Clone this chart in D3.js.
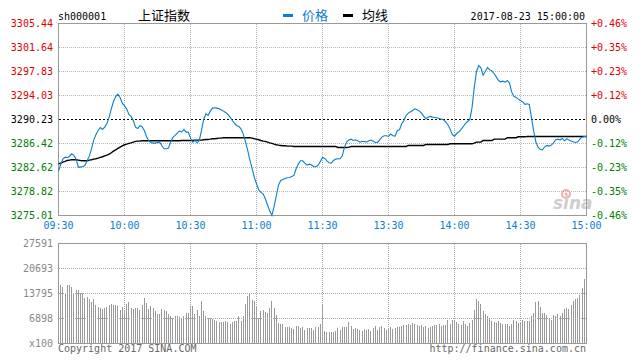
<!DOCTYPE html>
<html>
<head>
<meta charset="utf-8">
<script src="https://cdn.jsdelivr.net/npm/d3@7"></script>
<style>
  body { margin: 0; background: #fff; }
</style>
</head>
<body>
<div id="chart"></div>
<script>
// sh000001 intraday, 2017-08-23, one point per minute (09:30-11:30, 13:01-15:00)
const prevClose = 3290.23
const priceLabels = ["3305.44", "3301.64", "3297.83", "3294.03", "3290.23", "3286.42", "3282.62", "3278.82", "3275.01"]
const pctLabels = ["+0.46%", "+0.35%", "+0.23%", "+0.12%", "0.00%", "-0.12%", "-0.23%", "-0.35%", "-0.46%"]
const volLabels = ["27591", "20693", "13795", "6898", "x100"]
const timeLabels = ["09:30", "10:00", "10:30", "11:00", "11:30", "13:30", "14:00", "14:30", "15:00"]
const timeIndex = [0, 30, 60, 90, 120, 150, 180, 210, 240]

const price = [
  3282.04, 3283.10, 3283.95, 3284.26, 3284.21, 3284.37, 3284.79, 3284.53, 3283.95, 3282.68,
  3282.68, 3282.78, 3282.94, 3283.68, 3284.42, 3285.58, 3286.96, 3287.80, 3288.49, 3288.96,
  3288.65, 3289.02, 3289.60, 3290.55, 3291.92, 3293.08, 3293.87, 3294.24, 3293.72, 3292.82,
  3292.40, 3291.87, 3291.02, 3290.71, 3290.07, 3289.02, 3288.80, 3289.23, 3289.07, 3288.49,
  3287.54, 3286.85, 3286.59, 3286.48, 3286.48, 3286.59, 3286.64, 3286.06, 3285.58, 3285.58,
  3285.69, 3286.69, 3287.38, 3287.70, 3288.07, 3288.43, 3288.22, 3288.65, 3288.22, 3288.22,
  3287.27, 3286.64, 3286.90, 3286.53, 3286.90, 3288.49, 3290.23, 3291.13, 3290.86, 3291.55,
  3292.03, 3292.08, 3292.03, 3291.92, 3291.76, 3291.55, 3291.34, 3291.02, 3290.60, 3290.07,
  3289.65, 3289.28, 3289.12, 3288.70, 3287.91, 3286.69, 3285.32, 3283.79, 3282.47, 3281.04,
  3280.04, 3279.09, 3278.67, 3278.45, 3277.66, 3276.71, 3275.71, 3275.02, 3276.45, 3278.14,
  3279.83, 3280.57, 3280.72, 3280.88, 3280.99, 3281.04, 3281.20, 3281.36, 3282.41, 3283.15,
  3283.68, 3283.68, 3283.31, 3283.00, 3283.15, 3283.00, 3282.73, 3282.73, 3282.94, 3283.58,
  3284.21,
  3284.05, 3283.68, 3283.36, 3283.31, 3283.73, 3283.95, 3284.00, 3284.00, 3284.47, 3285.85,
  3286.69, 3286.96, 3287.11, 3286.90, 3287.01, 3286.85, 3286.64, 3286.75, 3286.75, 3286.64,
  3286.85, 3286.96, 3286.80, 3286.59, 3286.59, 3287.01, 3287.43, 3287.64, 3287.64, 3287.54,
  3287.91, 3287.64, 3287.59, 3288.49, 3288.59, 3289.54, 3290.07, 3290.86, 3291.23, 3291.45,
  3291.66, 3291.92, 3291.76, 3291.55, 3291.23, 3290.76, 3290.34, 3290.60, 3290.71, 3290.60,
  3290.55, 3290.49, 3290.39, 3290.28, 3290.18, 3289.86, 3289.39, 3288.70, 3287.85, 3287.54,
  3288.01, 3288.28, 3288.65, 3289.12, 3289.60, 3289.91, 3290.28, 3292.18, 3295.35, 3297.84,
  3298.79, 3298.42, 3297.25, 3297.84, 3298.47, 3298.10, 3297.94, 3297.47, 3296.99, 3296.41,
  3296.20, 3296.30, 3296.15, 3296.41, 3295.99, 3294.56, 3293.87, 3293.77, 3293.45, 3293.24,
  3293.03, 3292.61, 3292.71, 3292.61, 3290.49, 3288.38, 3286.64, 3285.85, 3285.48, 3285.42,
  3285.90, 3286.11, 3286.01, 3286.16, 3286.53, 3287.01, 3287.11, 3287.01, 3287.22, 3286.85,
  3287.17, 3286.96, 3286.80, 3286.69, 3286.59, 3286.69, 3287.11, 3287.43, 3287.54, 3287.54
]

const avgPrice = [
  3283.21, 3283.31, 3283.47, 3283.58, 3283.73, 3283.79, 3283.84, 3283.84, 3283.84, 3283.79,
  3283.73, 3283.68, 3283.68, 3283.68, 3283.79, 3283.84, 3283.95, 3284.00, 3284.10, 3284.21,
  3284.32, 3284.47, 3284.58, 3284.74, 3284.95, 3285.21, 3285.42, 3285.64, 3285.85, 3286.06,
  3286.22, 3286.32, 3286.43, 3286.53, 3286.64, 3286.75, 3286.80, 3286.80, 3286.85, 3286.85,
  3286.85, 3286.85, 3286.85, 3286.85, 3286.85, 3286.85, 3286.85, 3286.85, 3286.85, 3286.85,
  3286.85, 3286.85, 3286.85, 3286.85, 3286.85, 3286.85, 3286.90, 3286.90, 3286.90, 3286.90,
  3286.90, 3286.90, 3286.96, 3286.96, 3286.96, 3286.96, 3287.01, 3287.06, 3287.06, 3287.11,
  3287.17, 3287.17, 3287.22, 3287.27, 3287.27, 3287.33, 3287.33, 3287.33, 3287.33, 3287.33,
  3287.33, 3287.33, 3287.33, 3287.33, 3287.33, 3287.33, 3287.33, 3287.33, 3287.27, 3287.17,
  3287.11, 3287.01, 3286.90, 3286.80, 3286.75, 3286.64, 3286.53, 3286.43, 3286.32, 3286.22,
  3286.16, 3286.11, 3286.06, 3286.06, 3286.01, 3286.01, 3286.01, 3285.95, 3285.95, 3285.95,
  3285.95, 3285.95, 3285.95, 3285.95, 3285.95, 3285.95, 3285.95, 3285.95, 3285.95, 3285.95,
  3285.95,
  3285.95, 3285.95, 3285.95, 3285.95, 3285.95, 3285.95, 3285.79, 3285.79, 3285.79, 3285.79,
  3285.79, 3285.85, 3285.95, 3285.95, 3285.95, 3285.95, 3285.95, 3285.95, 3285.95, 3285.95,
  3285.95, 3285.95, 3285.95, 3285.95, 3285.95, 3285.95, 3285.95, 3285.95, 3285.95, 3285.95,
  3285.95, 3285.95, 3285.95, 3285.95, 3285.95, 3285.95, 3285.95, 3285.95, 3286.11, 3286.11,
  3286.11, 3286.11, 3286.11, 3286.11, 3286.11, 3286.11, 3286.27, 3286.27, 3286.27, 3286.27,
  3286.27, 3286.27, 3286.27, 3286.27, 3286.27, 3286.27, 3286.27, 3286.37, 3286.37, 3286.37,
  3286.37, 3286.37, 3286.37, 3286.37, 3286.37, 3286.37, 3286.37, 3286.37, 3286.48, 3286.64,
  3286.64, 3286.64, 3286.90, 3286.90, 3286.90, 3286.90, 3286.90, 3287.11, 3287.11, 3287.11,
  3287.11, 3287.11, 3287.11, 3287.33, 3287.33, 3287.33, 3287.33, 3287.33, 3287.48, 3287.48,
  3287.48, 3287.48, 3287.54, 3287.54, 3287.54, 3287.54, 3287.54, 3287.54, 3287.54, 3287.54,
  3287.54, 3287.54, 3287.54, 3287.54, 3287.54, 3287.54, 3287.54, 3287.54, 3287.54, 3287.54,
  3287.54, 3287.54, 3287.54, 3287.54, 3287.54, 3287.54, 3287.54, 3287.54, 3287.54, 3287.54
]

// volume in lots of 100
const volume = [
  27591, 16090, 15530, 13800, 16090, 16090, 15530, 13800, 14710, 14710,
  13800, 14070, 12580, 12860, 12220, 11400, 12220, 10570, 10020, 9740,
  9460, 9740, 10020, 10570, 10840, 10570, 10570, 10290, 9190, 10020,
  8910, 10840, 11400, 9740, 9460, 9740, 9740, 9190, 10570, 12500,
  11120, 9460, 10290, 9740, 8910, 8080, 8080, 9460, 9190, 8910,
  8080, 7530, 6980, 7530, 7530, 7260, 6980, 7530, 8360, 8360,
  10020, 10290, 8080, 9190, 7530, 11670, 8910, 7530, 6980, 6980,
  6700, 6430, 6150, 5880, 5880, 5880, 6150, 5880, 5330, 5880,
  6150, 6150, 7530, 6150, 7530, 10840, 13050, 13880, 11950, 11670,
  10290, 6980, 8910, 9190, 8640, 8360, 9740, 11670, 9740, 7810,
  5600, 5330, 5330, 4500, 4500, 4500, 4220, 3950, 4770, 4770,
  4220, 4500, 3670, 4220, 4220, 4220, 3670, 4500, 4500, 5330,
  10570,
  3390, 3120, 3120, 3120, 3120, 3390, 4220, 3670, 4500, 4500,
  4500, 5880, 4770, 3950, 4220, 3950, 3670, 3390, 3950, 3670,
  3950, 3390, 4220, 4770, 3670, 4500, 4770, 4220, 3670, 3950,
  4500, 3950, 4220, 4500, 4500, 4770, 5050, 5050, 5330, 5050,
  5600, 5330, 5050, 4770, 5050, 4500, 4770, 4220, 4500, 4770,
  5050, 5050, 5330, 4770, 5050, 5050, 6430, 5330, 6430, 6150,
  5880, 5330, 5050, 6150, 5330, 4770, 5600, 6430, 9190, 12220,
  11670, 10840, 8910, 8080, 7530, 6700, 6150, 5880, 5600, 6150,
  5600, 5330, 5330, 5330, 4770, 5330, 6430, 6150, 5600, 5600,
  6430, 6150, 6150, 6150, 7530, 8360, 11400, 11670, 10020, 8360,
  8360, 7810, 6980, 6430, 7810, 7530, 8080, 7530, 8360, 9460,
  9740, 9460, 10570, 11670, 12220, 12500, 13330, 15260, 17740, 17740
]

const mono = "'DejaVu Sans Mono', monospace"
const cjk = "'Noto Sans CJK SC', sans-serif"
const up = "#e00000", down = "#008000", flat = "#000", blue = "#0a7ed0", grey = "#999"

const x = d3.scaleLinear([0, 240], [58.5, 586.5])
const yP = d3.scaleLinear([3275.01, 3305.44], [215.5, 23.5])
const yV = d3.scaleLinear([0, 27591], [343.5, 243.5])
const levels = d3.range(priceLabels.length).map(k => 3305.44 - k * (3305.44 - 3275.01) / 8)
const volLevels = d3.range(volLabels.length).map(k => 27591 - k * 27591 / 4)
const labelColor = (k) => k < 4 ? up : (k === 4 ? flat : down)

const svg = d3.create("svg")
    .attr("width", 641)
    .attr("height", 363)
    .attr("viewBox", [0, 0, 641, 363])
    .style("display", "block")
    .style("background", "#fff")

// header
svg.append("text").attr("x", 58).attr("y", 20)
    .attr("font-family", mono).attr("font-size", 10).attr("fill", "#000").text("sh000001")
svg.append("text").attr("x", 138).attr("y", 20)
    .attr("font-family", cjk).attr("font-size", 13).attr("fill", "#000").text("上证指数")
svg.append("rect").attr("x", 283).attr("y", 14).attr("width", 10).attr("height", 3).attr("fill", blue)
svg.append("text").attr("x", 302).attr("y", 20)
    .attr("font-family", cjk).attr("font-size", 13).attr("fill", blue).text("价格")
svg.append("rect").attr("x", 343).attr("y", 14).attr("width", 10).attr("height", 3).attr("fill", "#000")
svg.append("text").attr("x", 362).attr("y", 20)
    .attr("font-family", cjk).attr("font-size", 13).attr("fill", "#000").text("均线")
svg.append("text").attr("x", 585).attr("y", 20).attr("text-anchor", "end")
    .attr("font-family", mono).attr("font-size", 10).attr("fill", "#000").text("2017-08-23 15:00:00")

// watermark
const wm = svg.append("g").attr("opacity", 0.9)
wm.append("circle").attr("cx", 566).attr("cy", 194).attr("r", 4)
    .attr("fill", "none").attr("stroke", "#f4a6a6").attr("stroke-width", 2)
wm.append("circle").attr("cx", 566).attr("cy", 194).attr("r", 1.5).attr("fill", "#f4a6a6")
wm.append("text").attr("x", 553).attr("y", 209)
    .attr("font-family", "'DejaVu Sans', sans-serif").attr("font-size", 17)
    .attr("font-style", "italic").attr("font-weight", "bold").attr("fill", "#c9c9c9").text("sina")

// price grid
const grid = svg.append("g").attr("stroke", "#b5b5b5").attr("stroke-dasharray", "1,1").attr("shape-rendering", "crispEdges")
grid.selectAll(".h").data(levels.slice(1, -1).filter((d, k) => k !== 3)).join("line")
    .attr("x1", x(0)).attr("x2", x(240)).attr("y1", d => yP(d)).attr("y2", d => yP(d))
grid.selectAll(".v").data(timeIndex.slice(1, -1)).join("line")
    .attr("x1", d => x(d)).attr("x2", d => x(d)).attr("y1", yP.range()[1]).attr("y2", yP.range()[0])

svg.append("line")
    .attr("x1", x(0)).attr("x2", x(240)).attr("y1", yP(prevClose)).attr("y2", yP(prevClose))
    .attr("stroke", "#000").attr("stroke-dasharray", "2,2").attr("shape-rendering", "crispEdges")

svg.append("rect")
    .attr("x", x(0)).attr("y", yP.range()[1]).attr("width", x(240) - x(0)).attr("height", yP.range()[0] - yP.range()[1])
    .attr("fill", "none").attr("stroke", grey).attr("shape-rendering", "crispEdges")

// price and average lines
svg.append("path").datum(avgPrice)
    .attr("fill", "none").attr("stroke", "#000").attr("stroke-width", 1.4)
    .attr("d", d3.line((d, i) => x(i), d => yP(d)))
svg.append("path").datum(price)
    .attr("fill", "none").attr("stroke", blue).attr("stroke-width", 1.1)
    .attr("d", d3.line((d, i) => x(i), d => yP(d)))

// price axis labels
svg.append("g").selectAll("text").data(priceLabels).join("text")
    .attr("x", 53).attr("y", (d, k) => yP(levels[k])).attr("dy", "0.35em").attr("text-anchor", "end")
    .attr("font-family", mono).attr("font-size", 10).attr("fill", (d, k) => labelColor(k)).text(d => d)
svg.append("g").selectAll("text").data(pctLabels).join("text")
    .attr("x", 591).attr("y", (d, k) => yP(levels[k])).attr("dy", "0.35em")
    .attr("font-family", mono).attr("font-size", 10).attr("fill", (d, k) => labelColor(k)).text(d => d)
svg.append("g").selectAll("text").data(timeLabels).join("text")
    .attr("x", (d, k) => x(timeIndex[k])).attr("y", 229).attr("text-anchor", "middle")
    .attr("font-family", mono).attr("font-size", 10).attr("fill", blue).text(d => d)

// volume bars
svg.append("g").attr("fill", grey).attr("shape-rendering", "crispEdges")
  .selectAll("rect").data(volume).join("rect")
    .attr("x", (d, i) => Math.round(x(i) - 0.5)).attr("width", 1)
    .attr("y", d => yV(d)).attr("height", d => yV(0) - yV(d))

const vgrid = svg.append("g").attr("stroke", "#aaa").attr("stroke-dasharray", "1,1").attr("shape-rendering", "crispEdges")
vgrid.selectAll(".h").data(volLevels.slice(1, -1)).join("line")
    .attr("x1", x(0)).attr("x2", x(240)).attr("y1", d => yV(d)).attr("y2", d => yV(d))
vgrid.selectAll(".v").data(timeIndex.slice(1, -1)).join("line")
    .attr("x1", d => x(d)).attr("x2", d => x(d)).attr("y1", yV.range()[1]).attr("y2", yV.range()[0])

svg.append("rect")
    .attr("x", x(0)).attr("y", yV.range()[1]).attr("width", x(240) - x(0)).attr("height", yV.range()[0] - yV.range()[1])
    .attr("fill", "none").attr("stroke", grey).attr("shape-rendering", "crispEdges")

svg.append("g").selectAll("text").data(volLabels).join("text")
    .attr("x", 53).attr("y", (d, k) => yV(volLevels[k])).attr("dy", "0.35em").attr("text-anchor", "end")
    .attr("font-family", mono).attr("font-size", 10).attr("fill", "#888").text(d => d)

// footer
svg.append("text").attr("x", 58).attr("y", 352)
    .attr("font-family", mono).attr("font-size", 10).attr("fill", "#666").text("Copyright 2017 SINA.COM")
svg.append("text").attr("x", 586).attr("y", 352).attr("text-anchor", "end")
    .attr("font-family", mono).attr("font-size", 10).attr("fill", "#666").text("http://finance.sina.com.cn")

d3.select("#chart").node().appendChild(svg.node())
</script>
</body>
</html>
